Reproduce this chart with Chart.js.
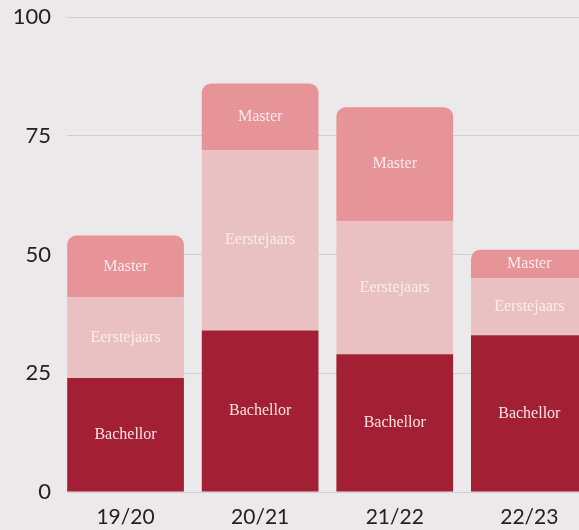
<!DOCTYPE html>
<html>
<head>
<meta charset="utf-8">
<script src="https://cdn.jsdelivr.net/npm/chart.js@4"></script>
<style>
  html, body { margin: 0; padding: 0; background: #ece9ea; overflow: hidden; }
  #wrap { width: 579px; height: 530px; }
</style>
</head>
<body>
<div id="wrap"><canvas id="myChart"></canvas></div>
<script>
// jaren en aantallen
var years = ['19/20', '20/21', '21/22', '22/23'];
var bachellor = [24, 34, 29, 33];
var eerstejaars = [17, 38, 28, 12];
var master = [13, 14, 24, 6];
var yTicks = [0, 25, 50, 75, 100];

function points(values) {
    return values.map(function (v, i) { return { x: i, y: v }; });
}

// tekst in het midden van elk stuk van de balk
var segmentLabels = {
    id: 'segmentLabels',
    afterDatasetsDraw: function (chart) {
        var ctx = chart.ctx;
        ctx.save();
        ctx.font = '16px "Liberation Serif", "DejaVu Serif", serif';
        ctx.fillStyle = 'rgba(255, 238, 238, 0.95)';
        ctx.textAlign = 'center';
        ctx.textBaseline = 'middle';
        chart.data.datasets.forEach(function (ds, d) {
            var meta = chart.getDatasetMeta(d);
            meta.data.forEach(function (bar) {
                ctx.fillText(ds.label, bar.x, (bar.y + bar.base) / 2);
            });
        });
        ctx.restore();
    }
};

var ctx = document.getElementById('myChart').getContext('2d');
var myChart = new Chart(ctx, {
    type: 'bar',
    data: {
        datasets: [
            { label: 'Bachellor', data: points(bachellor), backgroundColor: '#a31f33' },
            { label: 'Eerstejaars', data: points(eerstejaars), backgroundColor: '#eac1c2' },
            {
                label: 'Master', data: points(master), backgroundColor: '#e79498',
                borderRadius: { topLeft: 9, topRight: 9, bottomLeft: 0, bottomRight: 0 },
                borderSkipped: false
            }
        ]
    },
    options: {
        responsive: true,
        maintainAspectRatio: false,
        animation: false,
        layout: { padding: { top: 17, right: 0, left: 0, bottom: 0 } },
        datasets: { bar: { barPercentage: 0.867, categoryPercentage: 1 } },
        plugins: { legend: { display: false }, tooltip: { enabled: false } },
        scales: {
            x: {
                type: 'linear',
                stacked: true,
                offset: false,
                min: -0.435,
                max: 3.369,
                grid: { display: false, offset: false },
                border: { display: false },
                afterBuildTicks: function (s) {
                    s.ticks = years.map(function (y, i) { return { value: i }; });
                },
                afterFit: function (s) {
                    s.height = 38;
                    s.paddingLeft = 0;
                    s.paddingRight = 0;
                },
                ticks: {
                    padding: 5,
                    color: '#222',
                    font: { family: 'Lato, "Noto Sans", sans-serif', size: 21 },
                    callback: function (v) { return years[v]; }
                }
            },
            y: {
                stacked: true,
                min: 0,
                max: 100,
                afterBuildTicks: function (s) {
                    s.ticks = yTicks.map(function (v) { return { value: v }; });
                },
                afterFit: function (s) {
                    s.width = 67;
                    s.paddingTop = 0;
                    s.paddingBottom = 0;
                },
                grid: { color: '#d2cfd0', lineWidth: 1, drawTicks: false },
                border: { display: false },
                ticks: {
                    padding: 16,
                    color: '#222',
                    font: { family: 'Lato, "Noto Sans", sans-serif', size: 22 }
                }
            }
        }
    },
    plugins: [segmentLabels]
});
</script>
</body>
</html>
